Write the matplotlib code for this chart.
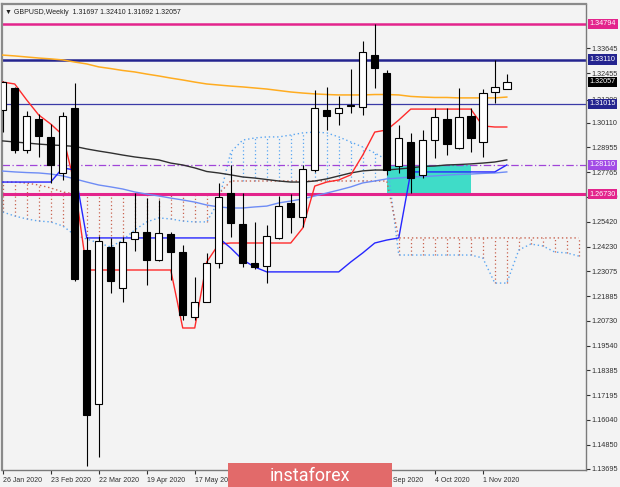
import matplotlib
matplotlib.use('Agg')

from matplotlib import pyplot as plt
from matplotlib.patches import Rectangle
import numpy as np

plt.rcParams['font.family'] = ['Liberation Sans', 'DejaVu Sans']

# weekly GBPUSD candles, one per week starting 26 Jan 2020
opens = [1.3072, 1.3175, 1.2880, 1.3030, 1.2944, 1.2773, 1.3081, 1.2408, 1.1678, 1.2423,
         1.2229, 1.2460, 1.2494, 1.2361, 1.2484, 1.2399, 1.2090, 1.2162, 1.2346, 1.2678,
         1.2531, 1.2346, 1.2333, 1.2466, 1.2631, 1.2565, 1.2787, 1.3072, 1.3057, 1.3091,
         1.3086, 1.3332, 1.3247, 1.2806, 1.2920, 1.2764, 1.2930, 1.3030, 1.2892, 1.3043,
         1.2920, 1.3157, 1.31697]
highs = [1.3210, 1.3180, 1.3067, 1.3053, 1.3006, 1.3062, 1.3200, 1.2470, 1.2475, 1.2466,
         1.2470, 1.2678, 1.2655, 1.2645, 1.2495, 1.2430, 1.2281, 1.2394, 1.2726, 1.2811,
         1.2678, 1.2541, 1.2527, 1.2664, 1.2674, 1.2810, 1.3167, 1.3181, 1.3138, 1.3266,
         1.3400, 1.3479, 1.3262, 1.3001, 1.2963, 1.2977, 1.3081, 1.3081, 1.3176, 1.3081,
         1.3171, 1.3309, 1.32410]
lows = [1.2968, 1.2870, 1.2868, 1.2849, 1.2726, 1.2740, 1.2262, 1.1386, 1.1427, 1.2204,
        1.2163, 1.2403, 1.2243, 1.2355, 1.2266, 1.2078, 1.2075, 1.2160, 1.2323, 1.2470,
        1.2328, 1.2318, 1.2252, 1.2460, 1.2489, 1.2517, 1.2780, 1.2977, 1.3001, 1.3057,
        1.3048, 1.3176, 1.2762, 1.2773, 1.2678, 1.2750, 1.2845, 1.2858, 1.2888, 1.2873,
        1.2849, 1.3105, 1.31692]
closes = [1.3205, 1.2880, 1.3043, 1.2949, 1.2811, 1.3043, 1.2271, 1.1626, 1.2451, 1.2262,
          1.2447, 1.2494, 1.2361, 1.2490, 1.2399, 1.2100, 1.2162, 1.2346, 1.2659, 1.2536,
          1.2346, 1.2328, 1.2475, 1.2617, 1.2565, 1.2792, 1.3081, 1.3043, 1.3081, 1.3094,
          1.3347, 1.3271, 1.2787, 1.2939, 1.2750, 1.2930, 1.3039, 1.2911, 1.3039, 1.2939,
          1.3152, 1.3181, 1.32057]

# moving averages
ma_orange = [1.3332, 1.3328, 1.3323, 1.3318, 1.3314, 1.3309, 1.3299, 1.3290, 1.3276, 1.3268,
             1.3259, 1.3252, 1.3242, 1.3233, 1.3223, 1.3214, 1.3204, 1.3195, 1.3190, 1.3185,
             1.3181, 1.3176, 1.3171, 1.3164, 1.3157, 1.3152, 1.3148, 1.3145, 1.3143, 1.3143,
             1.3143, 1.3145, 1.3145, 1.3143, 1.3136, 1.3133, 1.3131, 1.3131, 1.3129, 1.3129,
             1.3129, 1.3129, 1.3133]
ma_black = [1.2925, 1.2920, 1.2915, 1.2910, 1.2906, 1.2903, 1.2899, 1.2887, 1.2877, 1.2868,
            1.2858, 1.2849, 1.2842, 1.2835, 1.2820, 1.2811, 1.2797, 1.2780, 1.2773, 1.2764,
            1.2754, 1.2749, 1.2742, 1.2735, 1.2730, 1.2730, 1.2735, 1.2745, 1.2759, 1.2773,
            1.2783, 1.2787, 1.2787, 1.2792, 1.2797, 1.2804, 1.2806, 1.2811, 1.2813, 1.2816,
            1.2820, 1.2825, 1.2835]
ma_light = [1.2782, 1.2778, 1.2775, 1.2773, 1.2768, 1.2759, 1.2745, 1.2730, 1.2716, 1.2707,
            1.2697, 1.2683, 1.2673, 1.2664, 1.2654, 1.2645, 1.2635, 1.2621, 1.2612, 1.2607,
            1.2607, 1.2612, 1.2616, 1.2631, 1.2640, 1.2650, 1.2664, 1.2678, 1.2692, 1.2707,
            1.2726, 1.2735, 1.2745, 1.2749, 1.2754, 1.2756, 1.2759, 1.2763, 1.2766, 1.2768,
            1.2771, 1.2773, 1.2778]

# ichimoku
tenkan = [1.3204, 1.3195, 1.3119, 1.3048, 1.3005, 1.2953, 1.2716, 1.2313, 1.2313, 1.2313,
          1.2313, 1.2313, 1.2313, 1.2313, 1.2313, 1.2038, 1.2038, 1.2351, 1.2436, 1.2441,
          1.2441, 1.2441, 1.2441, 1.2441, 1.2441, 1.2512, 1.2711, 1.2730, 1.2740, 1.2764,
          1.2858, 1.2967, 1.2977, 1.3024, 1.3076, 1.3076, 1.3076, 1.3076, 1.3076, 1.3076,
          1.2996, 1.2991, 1.2991]
kijun = [1.2730, 1.2730, 1.2730, 1.2730, 1.2730, 1.2797, 1.2787, 1.2465, 1.2465, 1.2465,
         1.2465, 1.2465, 1.2465, 1.2465, 1.2465, 1.2465, 1.2465, 1.2465, 1.2465, 1.2417,
         1.2361, 1.2327, 1.2304, 1.2304, 1.2304, 1.2304, 1.2304, 1.2304, 1.2304, 1.2351,
         1.2394, 1.2441, 1.2455, 1.2465, 1.2778, 1.2778, 1.2778, 1.2778, 1.2778, 1.2778,
         1.2778, 1.2778, 1.2811]
span_a = [1.2588, 1.2569, 1.2555, 1.2545, 1.2541, 1.2522, 1.2479, 1.2460, 1.2441, 1.2422,
          1.2455, 1.2503, 1.2541, 1.2560, 1.2555, 1.2545, 1.2541, 1.2541, 1.2640, 1.2872,
          1.2929, 1.2939, 1.2944, 1.2944, 1.2953, 1.2963, 1.2967, 1.2963, 1.2944, 1.2920,
          1.2896, 1.2868, 1.2835, 1.2384, 1.2384, 1.2384, 1.2384, 1.2384, 1.2384, 1.2384,
          1.2370, 1.2251, 1.2251, 1.2408, 1.2436, 1.2427, 1.2398, 1.2394, 1.2379]
span_b = [1.2730, 1.2730, 1.2725, 1.2716, 1.2702, 1.2683, 1.2673, 1.2673, 1.2673, 1.2673,
          1.2673, 1.2673, 1.2673, 1.2673, 1.2673, 1.2673, 1.2673, 1.2673, 1.2673, 1.2735,
          1.2735, 1.2735, 1.2735, 1.2735, 1.2735, 1.2735, 1.2735, 1.2735, 1.2735, 1.2735,
          1.2735, 1.2735, 1.2735, 1.2465, 1.2465, 1.2465, 1.2465, 1.2465, 1.2465, 1.2465,
          1.2465, 1.2465, 1.2465, 1.2465, 1.2465, 1.2465, 1.2465, 1.2465, 1.2465]

# drawn levels
level_top = 1.34794
level_navy = 1.33110
level_thin = 1.31015
level_dashdot = 1.28110
level_bottom = 1.26730
zone_weeks = (32, 39)
last_price = 1.32057

price_ticks = [1.33645, 1.32455, 1.31200, 1.30110, 1.28955, 1.27765, 1.26610, 1.25420,
               1.24230, 1.23075, 1.21885, 1.20730, 1.19540, 1.18385, 1.17195, 1.16040,
               1.14850, 1.13695]
date_labels = ["26 Jan 2020", "23 Feb 2020", "22 Mar 2020", "19 Apr 2020", "17 May 2020",
               "14 Jun 2020", "12 Jul 2020", "9 Aug 2020", "6 Sep 2020", "4 Oct 2020",
               "1 Nov 2020"]
title = "\u25bc GBPUSD,Weekly  1.31697 1.32410 1.31692 1.32057"

bg = '#f3f3f3'
pink = '#e3248c'
navy = '#24248f'

fig = plt.figure(figsize=(6.2, 4.87), dpi=100, facecolor=bg)
ax = fig.add_axes([2 / 620, 17 / 487, 584 / 620, 466 / 487], facecolor=bg)
ax.set_xlim(-0.06, 48.6)
ax.set_ylim(1.13647, 1.35742)

# turquoise zone
ax.add_patch(Rectangle((zone_weeks[0], level_bottom), zone_weeks[1] - zone_weeks[0],
                       level_dashdot - level_bottom, fc='#3fdcc8', ec='none', zorder=1))

# cloud: dotted verticals + span lines
kc = np.arange(len(span_a))
a = np.array(span_a)
b = np.array(span_b)
dots = (0, (1, 2))
cb, cr = '#5aa6f2', '#c8624e'
ax.vlines(kc[a >= b], b[a >= b], a[a >= b], colors=cb, lw=0.9, linestyles=dots, zorder=2)
ax.vlines(kc[a < b], a[a < b], b[a < b], colors=cr, lw=0.9, linestyles=dots, zorder=2)
ax.plot(kc, a, color=cb, lw=1, ls=dots, zorder=2)
ax.plot(kc, b, color=cr, lw=1, ls=dots, zorder=2)

# horizontal levels
ax.axhline(level_top, color=pink, lw=1.8, zorder=2.5)
ax.axhline(level_navy, color=navy, lw=1.8, zorder=2.5)
ax.axhline(level_thin, color='#3a3aa6', lw=0.9, zorder=2.5)
ax.axhline(level_dashdot, color='#a044d8', lw=0.9, ls=(0, (6, 2, 1, 2)), zorder=2.5)
ax.axhline(level_bottom, color=pink, lw=2.2, zorder=2.5)

k = np.arange(len(opens))
ax.plot(k, ma_orange, color='#ffac20', lw=1.1, zorder=3)
ax.plot(k, ma_black, color='#303030', lw=1, zorder=3)
ax.plot(k, ma_light, color='#6e8cf5', lw=1, zorder=3)
ax.plot(k, tenkan, color='#ff2a2a', lw=1, zorder=3)
ax.plot(k, kijun, color='#2626ff', lw=1, zorder=3)

# candles
o = np.array(opens)
c = np.array(closes)
up = c >= o
ax.vlines(k, lows, highs, color='black', lw=0.8, zorder=4)
body_h = np.maximum(np.abs(c - o), 0.00025)
ax.bar(k, body_h, bottom=np.minimum(o, c), width=0.62,
       color=np.where(up, 'white', 'black'), edgecolor='black', lw=0.8, zorder=5)

# frame
for side in ['left', 'top']:
    ax.spines[side].set_color('#8a8a8a')
    ax.spines[side].set_linewidth(1.6)
for side in ['right', 'bottom']:
    ax.spines[side].set_color('#7a7a7a')
    ax.spines[side].set_linewidth(1)

ax.yaxis.tick_right()
ax.set_yticks(price_ticks)
ax.set_yticklabels([f"{p:.5f}" for p in price_ticks])
ax.tick_params(axis='y', direction='out', length=3, width=0.8, pad=1.2,
               labelsize=5.2, colors='#303030')
ax.set_xticks(np.arange(0, 41, 4))
ax.set_xticklabels(date_labels)
ax.tick_params(axis='x', direction='out', length=3, width=0.8, pad=2,
               labelsize=5.0, colors='#303030')
for lab in ax.get_xticklabels():
    lab.set_ha('left')

# price boxes on the right scale
tr = ax.get_yaxis_transform()
for price, col in [(level_top, pink), (level_navy, navy), (last_price, 'black'),
                   (level_thin, navy), (level_dashdot, '#a24be6'), (level_bottom, pink)]:
    ax.text(1.006, price, f"{price:.5f}", transform=tr, fontsize=5.2, color='white',
            va='center', ha='left', clip_on=False, zorder=10,
            bbox=dict(boxstyle='square,pad=0.22', fc=col, ec='none'))

fig.text(5 / 620, 1 - 12 / 487, title, fontsize=5.0, color='#202020', va='center', ha='left')

# watermark banner
fig.add_artist(Rectangle((228 / 620, 0), 164 / 620, 24 / 487, transform=fig.transFigure,
                         fc='#e26a6a', ec='none', zorder=20))
fig.text(310 / 620, 11 / 487, 'instaforex', color='white', fontsize=13, family='Roboto',
         ha='center', va='center', zorder=21)

fig.savefig('out.png', dpi=100, facecolor=bg)
